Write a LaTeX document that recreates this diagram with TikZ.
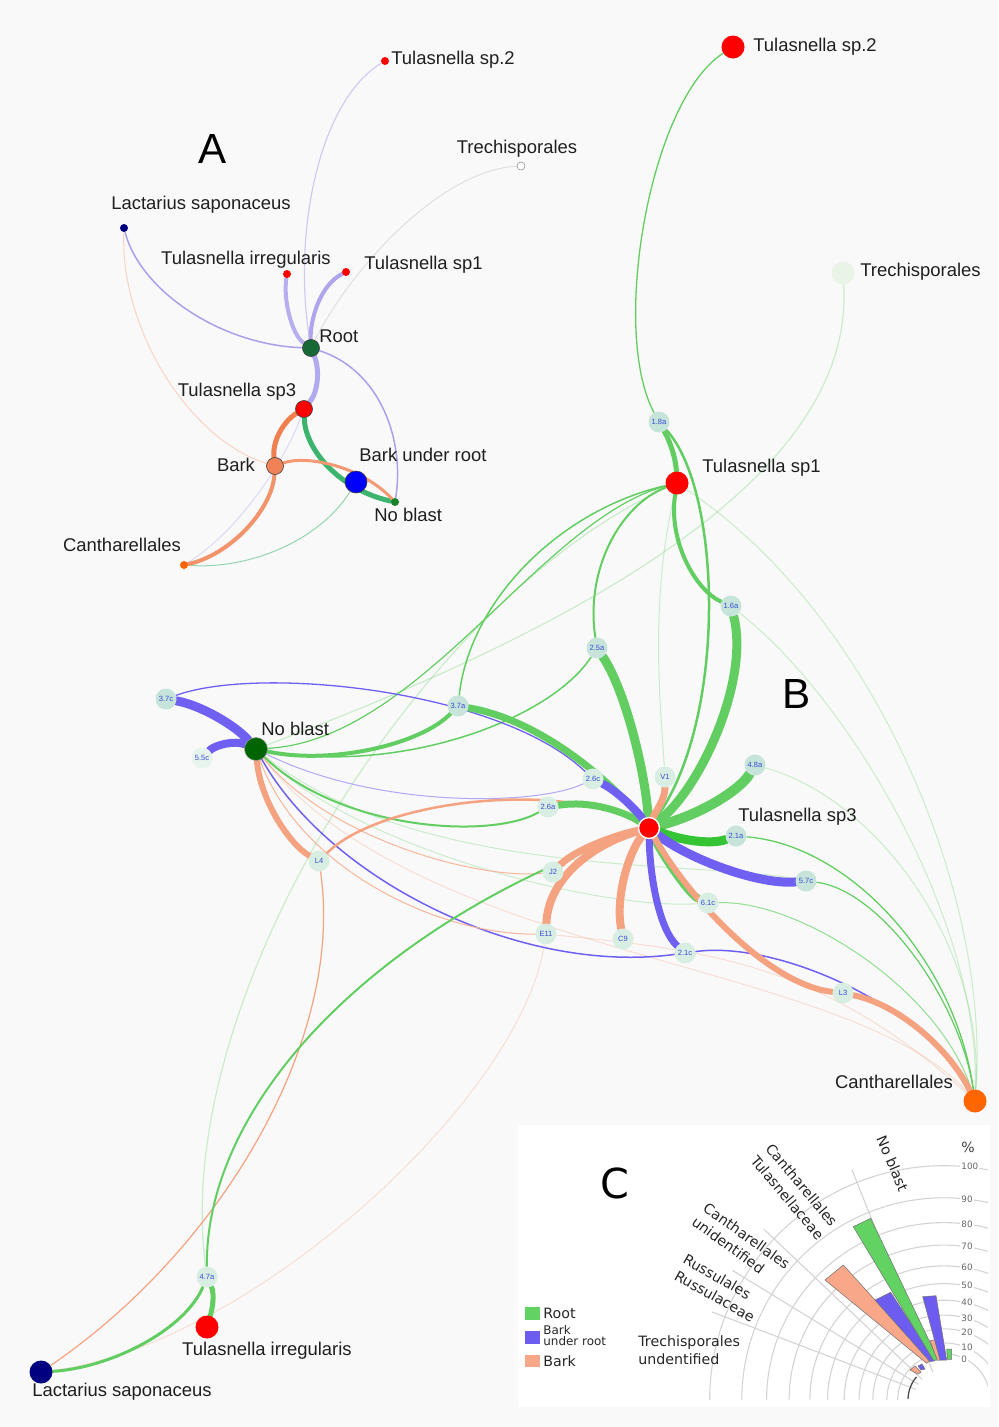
\documentclass[tikz,border=0pt]{standalone}
\usepackage{fontspec}
\setmainfont{Liberation Sans}
\newfontfamily\dvs{DejaVu Sans}
\pgfdeclarelayer{bottom}
\pgfdeclarelayer{edges}
\pgfsetlayers{bottom,edges,main}
\newdimen\pxu
\pxu=0.02cm
\definecolor{bgc}{RGB}{249,249,249}
\definecolor{cG}{RGB}{98,206,98}
\definecolor{cGd}{RGB}{52,196,52}
\definecolor{cP}{RGB}{112,96,242}
\definecolor{cS}{RGB}{245,162,128}
\definecolor{smfill}{RGB}{198,228,218}
\definecolor{smpale}{RGB}{216,238,226}
\definecolor{smtext}{RGB}{55,75,215}
\definecolor{lavA}{RGB}{170,160,236}
\definecolor{orA}{RGB}{240,128,80}
\definecolor{tealA}{RGB}{60,180,110}
\definecolor{rootA}{RGB}{22,104,52}
\definecolor{barkA}{RGB}{240,130,85}
\definecolor{nobA}{RGB}{24,130,40}
\definecolor{dgreen}{RGB}{0,100,0}
\definecolor{navyc}{RGB}{0,0,128}
\definecolor{orc}{RGB}{255,102,0}
\definecolor{trechB}{RGB}{234,244,230}
\definecolor{gridc}{RGB}{212,212,212}
\definecolor{barGc}{RGB}{98,210,98}
\definecolor{barPc}{RGB}{108,92,240}
\definecolor{barSc}{RGB}{248,168,136}
\tikzset{
  lbl/.style={font=\fontsize{10.5}{12}\selectfont, inner sep=0pt, text=black!88},
  bigletter/.style={font=\fontsize{24}{28}\selectfont, inner sep=0pt},
  smp/.style={circle, fill=smfill, inner sep=0pt, minimum size=21\pxu, font=\fontsize{4.3}{5}\selectfont, text=smtext},
  smq/.style={smp, fill=smpale},
  dotA/.style={circle, inner sep=0pt, minimum size=8\pxu, fill=#1},
  hubA/.style={circle, inner sep=0pt, minimum size=17\pxu, fill=#1, draw=black!75, line width=0.35pt},
  hubB/.style={circle, inner sep=0pt, minimum size=23\pxu, fill=#1},
  rootE/.style={draw=cG, line width=#1\pxu, line cap=round},
  burE/.style={draw=cP, line width=#1\pxu, line cap=round},
  barkE/.style={draw=cS, line width=#1\pxu, line cap=round},
  lavE/.style={draw=lavA, line width=#1\pxu, line cap=round},
  faint/.style={opacity=0.3},
  chartgrid/.style={draw=gridc, line width=1.1\pxu},
  ticklbl/.style={font=\dvs\fontsize{5}{6}\selectfont, text=black!60, fill=white, inner sep=0.6pt},
  catlbl/.style={font=\dvs\fontsize{8.1}{9.5}\selectfont, inner sep=0pt, text=black!85},
  barGs/.style={fill=barGc, draw=black!55, line width=0.3pt},
  barPs/.style={fill=barPc, draw=black!55, line width=0.3pt},
  barSs/.style={fill=barSc, draw=black!55, line width=0.3pt},
}
\begin{document}
\begin{tikzpicture}[x=0.02cm,y=-0.02cm]
\useasboundingbox (0,0) rectangle (998,1427);
\begin{pgfonlayer}{bottom}
\fill[bgc] (0,0) rectangle (998,1427);
\fill[white] (518,1125) rectangle (990,1407);
\end{pgfonlayer}

% ================= Panel A =================
\node[bigletter] (labA) at (213,149) {A};
\node[dotA=red] (A_sp2) at (385,61) {};
\node[dotA=white, draw=black!45, line width=0.3pt] (A_trech) at (521,166) {};
\node[dotA=navyc] (A_lact) at (124,228) {};
\node[dotA=red] (A_irr) at (287,274) {};
\node[dotA=red] (A_sp1) at (346,272) {};
\node[hubA=rootA] (A_root) at (311,348) {};
\node[hubA=red] (A_sp3) at (304,409) {};
\node[hubA=barkA] (A_bark) at (275,466) {};
\node[hubA=blue, minimum size=22\pxu] (A_bur) at (356,482) {};
\node[dotA=nobA] (A_nob) at (395,502) {};
\node[dotA=orc] (A_canth) at (184,565) {};

\node[lbl, anchor=west] (tA_sp2) at (391,60) {Tulasnella sp.2};
\node[lbl] (tA_trech) at (517,149) {Trechisporales};
\node[lbl] (tA_lact) at (201,205) {Lactarius saponaceus};
\node[lbl] (tA_irr) at (246,260) {Tulasnella irregularis};
\node[lbl, anchor=west] (tA_sp1) at (364,265) {Tulasnella sp1};
\node[lbl, anchor=west] (tA_root) at (319,336) {Root};
\node[lbl] (tA_sp3) at (237,392) {Tulasnella sp3};
\node[lbl] (tA_bark) at (236,465) {Bark};
\node[lbl, anchor=west] (tA_bur) at (359,455) {Bark under root};
\node[lbl, anchor=west] (tA_nob) at (374,515) {No blast};
\node[lbl] (tA_canth) at (122,545) {Cantharellales};

\begin{pgfonlayer}{edges}
\draw[lavE=1.2, draw=lavA!55] (A_root) .. controls (292,230) and (320,100) .. (A_sp2);
\draw[lavE=1, draw=black!12] (A_root) .. controls (350,270) and (440,170) .. (A_trech);
\draw[lavE=1.5] (A_lact) .. controls (140,290) and (220,345) .. (A_root);
\draw[lavE=4, draw=lavA!85] (A_irr) .. controls (283,300) and (292,335) .. (A_root);
\draw[lavE=4, draw=lavA!95] (A_sp1) .. controls (320,285) and (310,320) .. (A_root);
\draw[lavE=5, draw=lavA!90] (A_root) .. controls (320,370) and (318,392) .. (A_sp3);
\draw[lavE=1.5] (A_root) .. controls (380,370) and (405,440) .. (A_nob);
\draw[lavE=1, draw=lavA!40] (A_canth) .. controls (240,530) and (285,460) .. (A_sp3);
\draw[draw=orA!35, line width=1\pxu] (A_lact) .. controls (120,330) and (190,440) .. (A_bark);
\draw[draw=tealA!55, line width=1\pxu] (A_canth) .. controls (250,570) and (320,540) .. (A_bur);
\draw[draw=orA, line width=5\pxu, line cap=round] (A_sp3) .. controls (285,420) and (272,440) .. (A_bark);
\draw[draw=orA!85, line width=4\pxu, line cap=round] (A_bark) .. controls (272,510) and (230,555) .. (A_canth);
\draw[draw=tealA, line width=5\pxu, line cap=round] (A_sp3) .. controls (305,450) and (340,490) .. (A_nob);
\draw[draw=orA!80, line width=3\pxu, line cap=round] (A_bark) .. controls (305,455) and (360,465) .. (A_nob);
\end{pgfonlayer}

% ================= Panel B =================
\node[bigletter] (labB) at (797,694) {B};
\node[hubB=red] (B_sp2) at (733,47) {};
\node[hubB=trechB] (B_trech) at (843,273) {};
\node[smp] (n18a) at (659,422) {1.8a};
\node[hubB=red] (B_sp1) at (677,483) {};
\node[smp] (n16a) at (731,606) {1.6a};
\node[smp] (n25a) at (597,648) {2.5a};
\node[smp] (n37c) at (166,699) {3.7c};
\node[smp] (n37a) at (458,706) {3.7a};
\node[hubB=dgreen, draw=black!40, line width=0.3pt] (B_nob) at (256,749) {};
\node[smq, fill=smpale!60] (n55c) at (202,758) {5.5c};
\node[smq] (nV1) at (665,777) {V1};
\node[smp] (n48a) at (755,765) {4.8a};
\node[smq] (n26c) at (593,779) {2.6c};
\node[smq] (n26a) at (548,807) {2.6a};
\node[hubB=red, minimum size=21\pxu, draw=white, line width=0.8pt] (B_sp3) at (649,828) {};
\node[smp] (n21a) at (736,836) {2.1a};
\node[smq] (nL4) at (319,861) {L4};
\node[smq] (nJ2) at (553,872) {J2};
\node[smp] (n57c) at (806,881) {5.7c};
\node[smq] (n61c) at (708,903) {6.1c};
\node[smq] (nE11) at (546,934) {E11};
\node[smq] (nC9) at (623,939) {C9};
\node[smq] (n21c) at (685,953) {2.1c};
\node[smq] (nL3) at (843,993) {L3};
\node[hubB=orc] (B_canth) at (975,1101) {};
\node[smq] (n47a) at (207,1277) {4.7a};
\node[hubB=red] (B_irr) at (207,1327) {};
\node[hubB=navyc] (B_lact) at (41,1372) {};

\node[lbl, anchor=west] (tB_sp2) at (753,47) {Tulasnella sp.2};
\node[lbl, anchor=west] (tB_trech) at (860,272) {Trechisporales};
\node[lbl, anchor=west] (tB_sp1) at (702,468) {Tulasnella sp1};
\node[lbl, anchor=west] (tB_nob) at (261,729) {No blast};
\node[lbl, anchor=west] (tB_sp3) at (738,817) {Tulasnella sp3};
\node[lbl] (tB_canth) at (894,1082) {Cantharellales};
\node[lbl] (tB_irr) at (267,1351) {Tulasnella irregularis};
\node[lbl] (tB_lact) at (122,1392) {Lactarius saponaceus};

\begin{pgfonlayer}{edges}
% faint long lines
\draw[rootE=1.2, faint] (B_trech) .. controls (855,470) and (600,620) .. (B_nob);
\draw[rootE=1.2, faint] (n47a) .. controls (170,1000) and (420,600) .. (B_sp1);
\draw[rootE=1, faint] (B_sp1) .. controls (880,620) and (990,900) .. (B_canth);
\draw[rootE=1, faint] (n16a) .. controls (850,700) and (980,920) .. (B_canth);
\draw[rootE=1, faint] (n48a) .. controls (880,800) and (985,950) .. (B_canth);
\draw[rootE=1, faint] (B_sp1) .. controls (650,600) and (660,700) .. (nV1);
\draw[rootE=1, faint] (B_nob) .. controls (360,850) and (600,910) .. (n61c);
\draw[rootE=1, faint] (B_nob) .. controls (420,880) and (700,860) .. (n57c);
\draw[barkE=1, faint] (B_nob) .. controls (420,960) and (850,960) .. (B_canth);
\draw[barkE=1, faint] (nE11) .. controls (520,1100) and (250,1345) .. (B_lact);
\draw[barkE=1, faint] (nE11) .. controls (700,950) and (820,960) .. (B_canth);
% upper part
\draw[rootE=1.3] (B_sp2) .. controls (650,100) and (610,330) .. (n18a);
\draw[rootE=5] (n18a) .. controls (672,445) and (676,462) .. (B_sp1);
\draw[rootE=4] (B_sp1) .. controls (668,540) and (695,590) .. (n16a);
\draw[rootE=2.5] (n18a) .. controls (722,490) and (728,720) .. (B_sp3);
\draw[rootE=2] (n25a) .. controls (585,570) and (620,505) .. (B_sp1);
\draw[rootE=1.5] (n37a) .. controls (470,600) and (560,510) .. (B_sp1);
\draw[rootE=1.2] (B_nob) .. controls (420,740) and (540,520) .. (B_sp1);
\draw[rootE=1.5] (B_nob) .. controls (400,775) and (550,720) .. (n25a);
% No blast fan
\draw[burE=9] (n37c) .. controls (200,705) and (235,725) .. (B_nob);
\draw[burE=8] (n55c) .. controls (215,745) and (235,740) .. (B_nob);
\draw[burE=1.3] (n37c) .. controls (260,665) and (500,690) .. (n26c);
\draw[rootE=4] (B_nob) .. controls (330,765) and (420,745) .. (n37a);
\draw[burE=1, draw=cP!55] (B_nob) .. controls (380,810) and (540,805) .. (n26c);
\draw[rootE=2] (B_nob) .. controls (340,830) and (490,840) .. (n26a);
\draw[burE=1.5] (B_nob) .. controls (330,880) and (520,975) .. (n21c);
\draw[barkE=1, draw=cS!80] (B_nob) .. controls (330,840) and (480,880) .. (nJ2);
\draw[barkE=1, draw=cS!80] (B_nob) .. controls (300,870) and (440,935) .. (nE11);
\draw[barkE=6] (B_nob) .. controls (260,800) and (290,845) .. (nL4);
\draw[barkE=2.5] (nL4) .. controls (380,800) and (560,780) .. (B_sp3);
\draw[barkE=1.2] (nL4) .. controls (345,1040) and (220,1250) .. (B_lact);
% lower left
\draw[rootE=5] (n47a) .. controls (215,1295) and (212,1310) .. (B_irr);
\draw[rootE=3] (n47a) .. controls (185,1330) and (110,1368) .. (B_lact);
\draw[rootE=2] (n47a) .. controls (205,1100) and (380,920) .. (B_sp3);
% right side
\draw[rootE=1.3] (n21a) .. controls (850,845) and (955,960) .. (B_canth);
\draw[rootE=1.2] (n57c) .. controls (880,890) and (960,1000) .. (B_canth);
\draw[rootE=1, draw=cG!70] (n61c) .. controls (800,900) and (940,990) .. (B_canth);
\draw[burE=1.5] (n21c) .. controls (780,940) and (930,1010) .. (B_canth);
\draw[barkE=6] (nL3) .. controls (900,1005) and (950,1050) .. (B_canth);
% Tulasnella sp3 fan
\draw[rootE=9] (n16a) .. controls (750,680) and (700,790) .. (B_sp3);
\draw[rootE=9] (n25a) .. controls (625,690) and (645,770) .. (B_sp3);
\draw[rootE=7] (n37a) .. controls (540,720) and (610,780) .. (B_sp3);
\draw[barkE=7] (nV1) .. controls (665,800) and (655,812) .. (B_sp3);
\draw[rootE=10] (n48a) .. controls (740,790) and (700,815) .. (B_sp3);
\draw[rootE=9, draw=cGd] (n21a) .. controls (710,845) and (680,840) .. (B_sp3);
\draw[burE=9] (n57c) .. controls (760,885) and (690,860) .. (B_sp3);
\draw[rootE=8] (n61c) .. controls (690,895) and (665,860) .. (B_sp3);
\draw[burE=7] (n21c) .. controls (660,930) and (650,880) .. (B_sp3);
\draw[barkE=8] (nC9) .. controls (615,895) and (630,850) .. (B_sp3);
\draw[barkE=8] (nE11) .. controls (548,880) and (590,845) .. (B_sp3);
\draw[barkE=7] (nJ2) .. controls (575,850) and (615,835) .. (B_sp3);
\draw[rootE=7] (n26a) .. controls (590,800) and (625,812) .. (B_sp3);
\draw[burE=8] (n26c) .. controls (615,790) and (635,808) .. (B_sp3);
\draw[barkE=6] (nL3) .. controls (770,985) and (690,900) .. (B_sp3);
\end{pgfonlayer}

% ================= Panel C =================
\node[font=\dvs\fontsize{23.5}{28}\selectfont, inner sep=0pt] (labC) at (615,1183) {C};
\begin{scope}
\clip (518,1125) rectangle (988,1405);
\begin{scope}[shift={(944,1400)}, y=0.02cm]
\foreach \r in {46.3,57.1,71.2,84.9,99.8,116.4,134.1,154.9,177.4,202.2,234.3}
  \draw[chartgrid] (0:\r) arc[start angle=0, end angle=180, radius=\r];
\foreach \a in {111.8,136.5,148.5,159.2}
  \draw[chartgrid] (\a:30) -- (\a:248);
\draw[black!70, line width=1.3\pxu] (140:36) arc[start angle=140, end angle=178, radius=36];
\end{scope}
\end{scope}
\fill[barSs] (825,1280) -- (843.3,1265) -- (930,1360.7) -- (926.7,1363.3) -- cycle;
\fill[barPs] (875,1300) -- (890.7,1292.3) -- (935,1360.7) -- (930,1361.7) -- cycle;
\fill[barGs] (853.3,1226.7) -- (870.7,1218.3) -- (938.3,1360) -- (933.3,1360) -- cycle;
\fill[barSs] (930,1340.7) -- (936.7,1339.3) -- (940.7,1360) -- (937.3,1360) -- cycle;
\fill[barPs] (922.7,1296.7) -- (936,1295.7) -- (946.7,1360) -- (940,1360) -- cycle;
\fill[barGs] (946.7,1349) -- (951.7,1349) -- (951.7,1359.3) -- (947.3,1359.3) -- cycle;
\fill[barSs] (910,1370) -- (915,1366) -- (921,1372) -- (918,1374) -- cycle;
\fill[barPs] (918,1366) -- (922,1364) -- (925,1369) -- (921,1370) -- cycle;

\node[ticklbl, anchor=west] (t100) at (960,1166.7) {100};
\node[ticklbl, anchor=west] (t90) at (960,1199) {90};
\node[ticklbl, anchor=west] (t80) at (960,1224) {80};
\node[ticklbl, anchor=west] (t70) at (960,1246.7) {70};
\node[ticklbl, anchor=west] (t60) at (960,1267.7) {60};
\node[ticklbl, anchor=west] (t50) at (960,1285.7) {50};
\node[ticklbl, anchor=west] (t40) at (960,1302.7) {40};
\node[ticklbl, anchor=west] (t30) at (960,1318) {30};
\node[ticklbl, anchor=west] (t20) at (960,1332.3) {20};
\node[ticklbl, anchor=west] (t10) at (960,1347.3) {10};
\node[ticklbl, anchor=west] (t0) at (960,1359.3) {0};
\node[font=\dvs\fontsize{8}{9}\selectfont, text=black!75, inner sep=0pt] (tpct) at (968,1147) {\%};

\node[catlbl, rotate=-67] (cNob) at (892.5,1163.5) {No blast};
\node[catlbl, rotate=-50] (cCT1) at (801.7,1185) {Cantharellales};
\node[catlbl, rotate=-50] (cCT2) at (787.5,1197.5) {Tulasnellaceae};
\node[catlbl, rotate=-35.5] (cCU1) at (746.7,1235.8) {Cantharellales};
\node[catlbl, rotate=-36] (cCU2) at (728.3,1245) {unidentified};
\node[catlbl, rotate=-30] (cRR1) at (717.2,1276.7) {Russulales};
\node[catlbl, rotate=-29] (cRR2) at (714.7,1296.3) {Russulaceae};
\node[catlbl, anchor=west] (cTU1) at (638,1342.7) {Trechisporales};
\node[catlbl, anchor=west] (cTU2) at (638,1359.3) {undentified};

\fill[barGc] (525,1307) rectangle (540,1320);
\fill[barPc] (525,1331) rectangle (540,1344);
\fill[barSc] (525,1355) rectangle (540,1367);
\node[catlbl, anchor=west] (lgR) at (543,1313) {Root};
\node[font=\dvs\fontsize{6.8}{7}\selectfont, inner sep=0pt, anchor=west, text=black!85] (lgB1) at (543,1330.5) {Bark};
\node[font=\dvs\fontsize{6.8}{7}\selectfont, inner sep=0pt, anchor=west, text=black!85] (lgB2) at (543,1341) {under root};
\node[catlbl, anchor=west] (lgS) at (543,1361) {Bark};
\end{tikzpicture}
\end{document}
